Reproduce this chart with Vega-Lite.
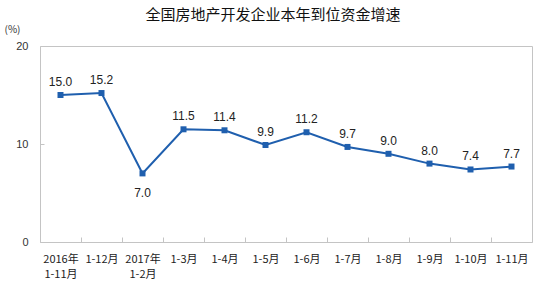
{
  "$schema": "https://vega.github.io/schema/vega-lite/v6.json",
  "width": 492,
  "height": 196,
  "autosize": {"type": "none"},
  "padding": {"left": 40, "top": 46, "right": 3, "bottom": 58},
  "background": "white",
  "config": {
    "view": {"stroke": "#c4c4c4", "strokeWidth": 1},
    "font": "Noto Sans CJK SC"
  },
  "title": {
    "text": "全国房地产开发企业本年到位资金增速",
    "fontSize": 15,
    "fontWeight": "normal",
    "font": "Noto Sans CJK SC",
    "color": "#111111",
    "anchor": "middle",
    "dx": -13,
    "dy": 15,
    "offset": 9,
    "baseline": "middle"
  },
  "data": {
    "values": [
      {"period": "2016年|1-11月", "value": 15.0, "pos": "above"},
      {"period": "1-12月", "value": 15.2, "pos": "above"},
      {"period": "2017年|1-2月", "value": 7.0, "pos": "below"},
      {"period": "1-3月", "value": 11.5, "pos": "above"},
      {"period": "1-4月", "value": 11.4, "pos": "above"},
      {"period": "1-5月", "value": 9.9, "pos": "above"},
      {"period": "1-6月", "value": 11.2, "pos": "above"},
      {"period": "1-7月", "value": 9.7, "pos": "above"},
      {"period": "1-8月", "value": 9.0, "pos": "above"},
      {"period": "1-9月", "value": 8.0, "pos": "above"},
      {"period": "1-10月", "value": 7.4, "pos": "above"},
      {"period": "1-11月", "value": 7.7, "pos": "above"}
    ]
  },
  "encoding": {
    "x": {
      "field": "period",
      "type": "nominal",
      "sort": null,
      "bandPosition": 0.5,
      "scale": {"type": "band", "paddingInner": 0, "paddingOuter": 0},
      "axis": {
        "title": null,
        "labelAngle": 0,
        "labelExpr": "split(datum.label, '|')",
        "labelFontSize": 11,
        "labelColor": "#222222",
        "labelPadding": 16,
        "labelLineHeight": 15,
        "labelBaseline": "top",
        "domain": false,
        "tickBand": "extent",
        "tickSize": -5,
        "tickColor": "#c4c4c4",
        "grid": false
      }
    },
    "y": {
      "field": "value",
      "type": "quantitative",
      "scale": {"domain": [0, 20]},
      "axis": {
        "values": [0, 10, 20],
        "title": "(%)",
        "titleAngle": 0,
        "titleX": -36,
        "titleY": -12,
        "titleFontSize": 10,
        "titleFontWeight": "normal",
        "titleColor": "#333333",
        "titleAlign": "left",
        "labelFontSize": 11,
        "labelColor": "#333333",
        "labelPadding": 16,
        "labelFont": "Liberation Sans",
        "domain": false,
        "grid": false,
        "tickSize": -4,
        "tickColor": "#c4c4c4"
      }
    }
  },
  "layer": [
    {
      "mark": {"type": "line", "color": "#1f5fae", "strokeWidth": 2},
      "encoding": {}
    },
    {
      "mark": {"type": "square", "color": "#1f5fae", "opacity": 1, "size": 36, "filled": true},
      "encoding": {}
    },
    {
      "transform": [{"filter": "datum.pos == 'above'"}],
      "mark": {"type": "text", "dy": -13, "fontSize": 12, "font": "Liberation Sans", "color": "#222222"},
      "encoding": {"text": {"field": "value", "type": "quantitative", "format": ".1f"}}
    },
    {
      "transform": [{"filter": "datum.pos == 'below'"}],
      "mark": {"type": "text", "dy": 20, "fontSize": 12, "font": "Liberation Sans", "color": "#222222"},
      "encoding": {"text": {"field": "value", "type": "quantitative", "format": ".1f"}}
    }
  ]
}
